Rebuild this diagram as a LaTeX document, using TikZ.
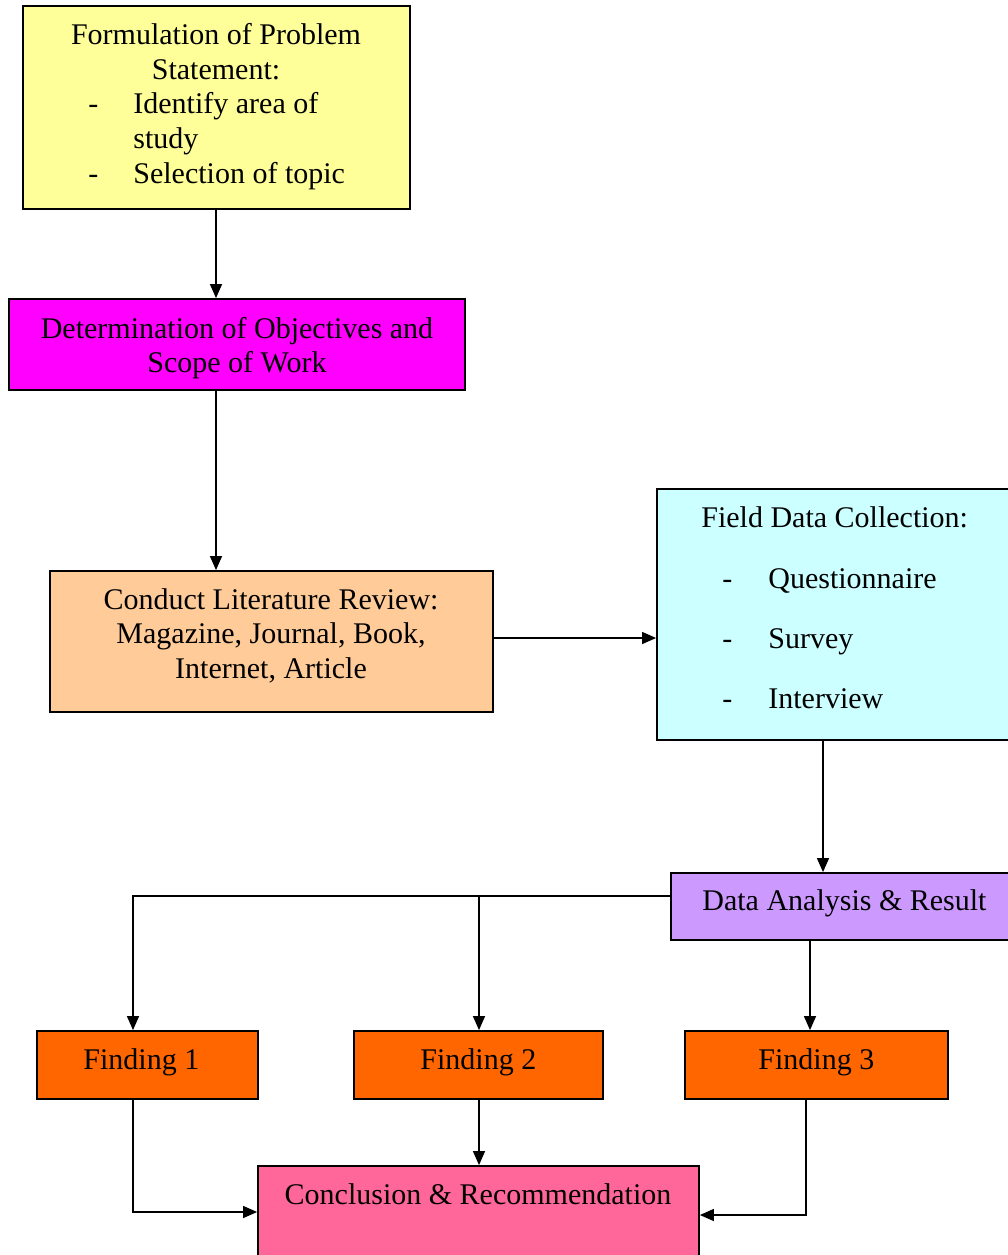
\documentclass[tikz,border=0pt]{standalone}
\usepackage{fontspec}
\setmainfont{Liberation Serif}
\usetikzlibrary{arrows.meta,fit,calc}
\definecolor{cYellow}{HTML}{FFFF99}
\definecolor{cMagenta}{HTML}{FF00FF}
\definecolor{cPeach}{HTML}{FFCC99}
\definecolor{cCyan}{HTML}{CCFFFF}
\definecolor{cPurple}{HTML}{CC99FF}
\definecolor{cOrange}{HTML}{FF6600}
\definecolor{cPink}{HTML}{FF6699}
\tikzset{
  box/.style={draw=black, line width=0.9pt, rectangle, inner sep=0pt},
  txt/.style={inner sep=0pt, font=\fontsize{15}{17.5}\selectfont},
  arr/.style={draw=black, line width=0.65pt, -{Triangle[length=7pt,width=6pt]}},
}
\begin{document}
\begin{tikzpicture}[x=0.5pt,y=-0.5pt]
\useasboundingbox (0,0) rectangle (1008,1255);
\clip (0,0) rectangle (1008,1255);
\fill[white] (0,0) rectangle (1008,1255);
% boxes
\node[box, fill=cYellow, fit={(23,6) (410,209)}] (yellow) {};
\node[box, fill=cMagenta, fit={(9,299) (465,390)}] (magenta) {};
\node[box, fill=cPeach, fit={(50,571) (493,712)}] (lit) {};
\node[box, fill=cCyan, fit={(657,489) (1030,740)}] (cyan) {};
\node[box, fill=cPurple, fit={(671,873) (1030,940)}] (purple) {};
\node[box, fill=cOrange, fit={(37,1031) (258,1099)}] (f1) {};
\node[box, fill=cOrange, fit={(354,1031) (603,1099)}] (f2) {};
\node[box, fill=cOrange, fit={(685,1031) (948,1099)}] (f3) {};
\node[box, fill=cPink, fit={(258,1166) (699,1280)}] (conc) {};
% texts
\node[txt, anchor=base] (y1) at (216,44) {Formulation of Problem};
\node[txt, anchor=base] (y2) at (216,79) {Statement:};
\node[txt, anchor=base west] (y3d) at (88,113) {-};
\node[txt, anchor=base west] (y3) at (133,113) {Identify area of};
\node[txt, anchor=base west] (y4) at (133,148) {study};
\node[txt, anchor=base west] (y5d) at (88,183) {-};
\node[txt, anchor=base west] (y5) at (133,183) {Selection of topic};
\node[txt, anchor=base] (m1) at (237,338) {Determination of Objectives and};
\node[txt, anchor=base] (m2) at (237,372) {Scope of Work};
\node[txt, anchor=base] (l1) at (271,609) {Conduct Literature Review:};
\node[txt, anchor=base] (l2) at (271,643) {Magazine, Journal, Book,};
\node[txt, anchor=base] (l3) at (271,678) {Internet, Article};
\node[txt, anchor=base west] (c1) at (701,527) {Field Data Collection:};
\node[txt, anchor=base west] (c2d) at (722,588) {-};
\node[txt, anchor=base west] (c2) at (768,588) {Questionnaire};
\node[txt, anchor=base west] (c3d) at (722,648) {-};
\node[txt, anchor=base west] (c3) at (768,648) {Survey};
\node[txt, anchor=base west] (c4d) at (722,708) {-};
\node[txt, anchor=base west] (c4) at (768,708) {Interview};
\node[txt, anchor=base west] (p1) at (702,910) {Data Analysis \& Result};
\node[txt, anchor=base west] (t1) at (83,1069) {Finding 1};
\node[txt, anchor=base west] (t2) at (420,1069) {Finding 2};
\node[txt, anchor=base west] (t3) at (758,1069) {Finding 3};
\node[txt, anchor=base] (k) at (478,1204) {Conclusion \& Recommendation};
% connector guide coordinates
\coordinate (a1) at (216,0);
\coordinate (a2) at (0,638);
\coordinate (a3) at (823,0);
\coordinate (j1) at (133,896);
\coordinate (j2) at (479,896);
\coordinate (p3) at (810,0);
\coordinate (k1) at (133,1212);
\coordinate (k3) at (806,1215);
% connectors
\draw[arr] (a1 |- yellow.south) -- (a1 |- magenta.north);
\draw[arr] (a1 |- magenta.south) -- (a1 |- lit.north);
\draw[arr] (lit.east |- a2) -- (cyan.west |- a2);
\draw[arr] (a3 |- cyan.south) -- (a3 |- purple.north);
\draw[arr] (purple.west |- j1) -- (j1) -- (j1 |- f1.north);
\draw[arr] (j2) -- (j2 |- f2.north);
\draw[arr] (p3 |- purple.south) -- (p3 |- f3.north);
\draw[arr] (k1 |- f1.south) -- (k1) -- (k1 -| conc.west);
\draw[arr] (j2 |- f2.south) -- (j2 |- conc.north);
\draw[arr] (k3 |- f3.south) -- (k3) -- (k3 -| conc.east);
\end{tikzpicture}
\end{document}
